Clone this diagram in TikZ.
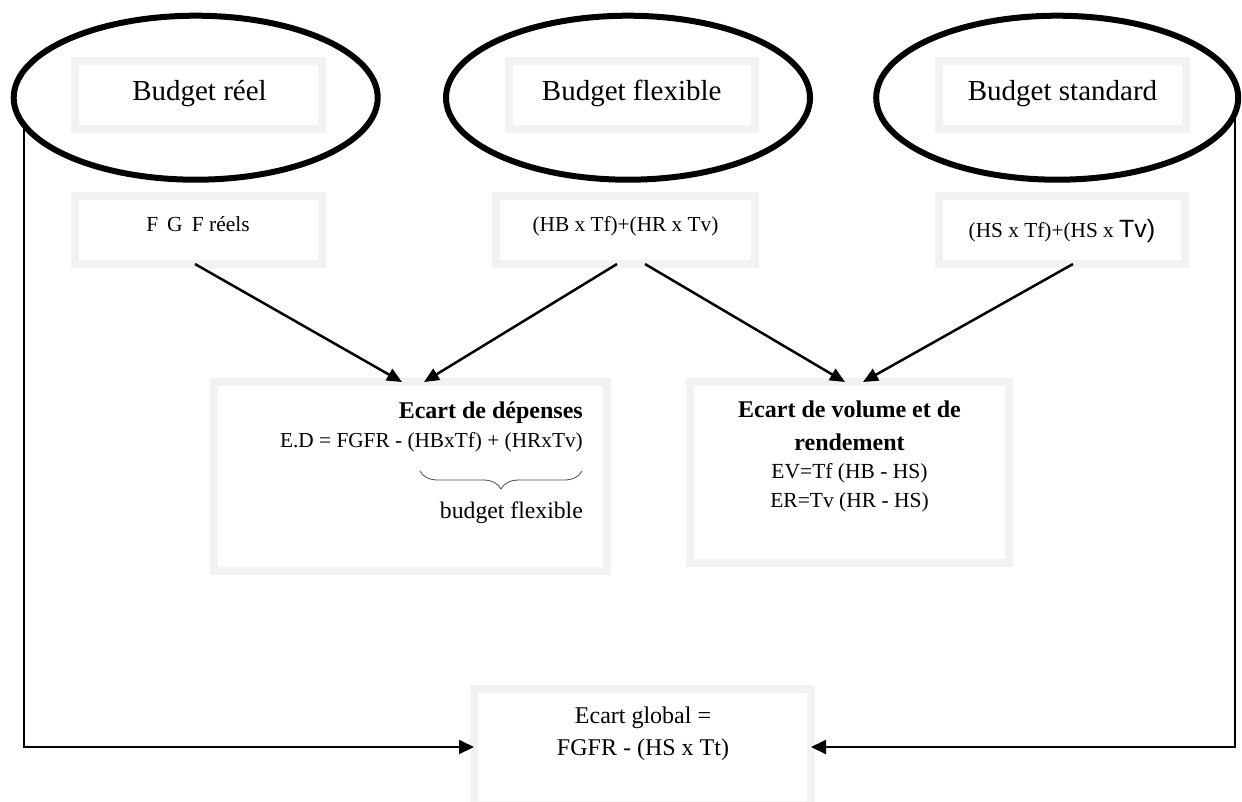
\documentclass[tikz,border=0pt]{standalone}
\usepackage{fontspec}
\setmainfont{Liberation Serif}
\newfontfamily\arialfont{Liberation Sans}
\usetikzlibrary{arrows.meta,shapes.geometric,decorations.pathreplacing,calc}
\definecolor{boxgray}{HTML}{F2F2F2}
\newcommand{\fsz}[1]{\fontsize{#1}{#1}\selectfont}
\begin{document}
\begin{tikzpicture}[x=1pt,y=-1pt,
  oval/.style={ellipse, draw=black, line width=6pt, minimum width=364pt, minimum height=164pt, inner sep=0pt, outer sep=0pt},
  graybox/.style={draw=boxgray, line width=8pt, fill=white, inner sep=0pt, outer sep=0pt},
  lbl/.style={anchor=base, inner sep=0pt},
  arr/.style={line width=2.5pt, -{Triangle[length=15pt,width=13pt]}},
  link/.style={line width=2pt, -{Triangle[length=15pt,width=14pt]}},
]
\useasboundingbox (0,0) rectangle (1242,801);

% ellipses
\node[oval] (e1) at (195.7,97.7) {};
\node[oval] (e2) at (628,97.7) {};
\node[oval, minimum width=362pt] (e3) at (1057.2,97.7) {};

% top boxes
\node[graybox, minimum width=247pt, minimum height=68pt] (b1) at (198.5,95) {};
\node[graybox, minimum width=246pt, minimum height=68pt] (b2) at (632,95) {};
\node[graybox, minimum width=247pt, minimum height=68pt] (b3) at (1062.5,95) {};
\node[lbl, font=\fsz{29}] (t1) at (199.5,100) {Budget réel};
\node[lbl, font=\fsz{29}] (t2) at (631.7,100) {Budget flexible};
\node[lbl, font=\fsz{29}] (t3) at (1062.5,100) {Budget standard};

% second row boxes
\node[graybox, minimum width=247pt, minimum height=68pt] (a2) at (198.5,230) {};
\node[graybox, minimum width=259pt, minimum height=68pt] (b2r) at (625.5,230) {};
\node[graybox, minimum width=246pt, minimum height=68pt] (c2) at (1062,230) {};
\node[lbl, font=\fsz{21.5}] (u1) at (198,231) {F\hspace{9pt}G\hspace{9pt}F réels};
\node[lbl, font=\fsz{21.3}] (u2) at (625.5,231) {(HB x Tf)+(HR x Tv)};
\node[lbl, font=\fsz{21.3}] (u3) at (1062,237) {(HS x Tf)+(HS x {\arialfont\fsz{25}Tv)}};

% middle boxes
\node[graybox, minimum width=393pt, minimum height=189pt] (m1) at (410.5,476.5) {};
\node[graybox, minimum width=319pt, minimum height=181pt] (m2) at (849.5,472.5) {};
\node[lbl, anchor=base east, font=\bfseries\fsz{24}] (m1a) at (583,418) {Ecart de dépenses};
\node[lbl, anchor=base east, font=\fsz{21.3}] (m1b) at (583,447) {E.D = FGFR - (HBxTf) + (HRxTv)};
\node[lbl, anchor=base east, font=\fsz{23.7}] (m1c) at (583,518) {budget flexible};
\draw[decorate, decoration={brace, amplitude=18pt}, line width=0.8pt, draw=black!70] (582,471) -- (420,471);

\node[lbl, font=\bfseries\fsz{24}] (m2a) at (849.5,417) {Ecart de volume et de};
\node[lbl, font=\bfseries\fsz{24}] (m2b) at (849.5,450) {rendement};
\node[lbl, font=\fsz{21.5}] (m2c) at (849.5,478) {EV=Tf (HB - HS)};
\node[lbl, font=\fsz{21.5}] (m2d) at (849.5,507) {ER=Tv (HR - HS)};

% bottom box
\node[graybox, minimum width=337pt, minimum height=116pt] (eg) at (642.5,747) {};
\node[lbl, font=\fsz{24}] (g1) at (643,723) {Ecart global =};
\node[lbl, font=\fsz{24}] (g2) at (643,755) {FGFR - (HS x Tt)};

% arrows
\draw[arr] ([xshift=-3.5pt]a2.south) -- ([xshift=-8.5pt]m1.north);
\draw[arr] ([xshift=-8.5pt]b2r.south) -- ([xshift=13.5pt]m1.north);
\draw[arr] ([xshift=19.5pt]b2r.south) -- ([xshift=-4.5pt]m2.north);
\draw[arr] ([xshift=11pt]c2.south) -- ([xshift=13.5pt]m2.north);

\draw[link] (e1.189.45) |- (eg.west);
\draw[link] (e3.-5.68) |- (eg.east);
\end{tikzpicture}
\end{document}
